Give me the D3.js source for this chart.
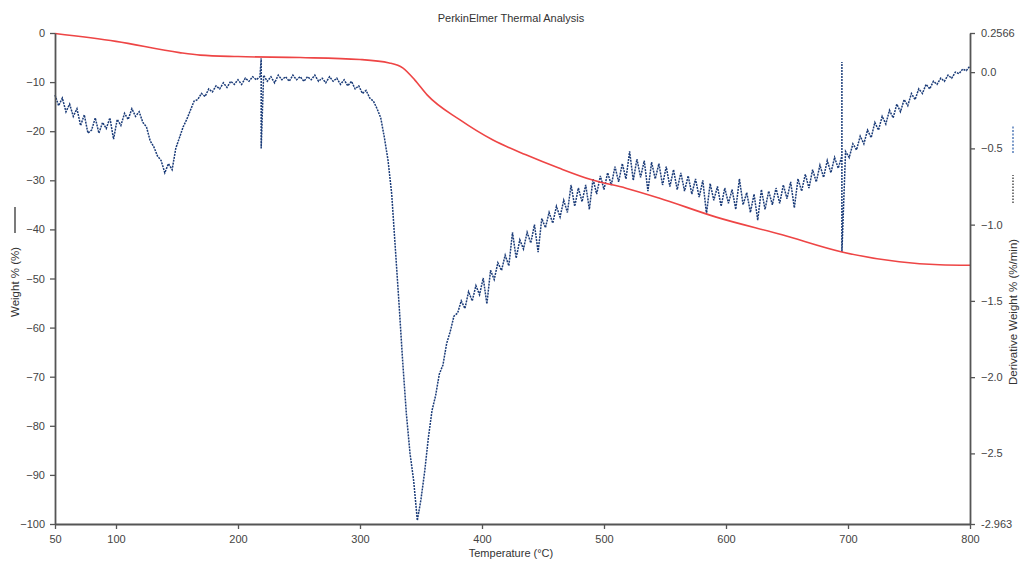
<!DOCTYPE html>
<html>
<head>
<meta charset="utf-8">
<script src="https://cdn.jsdelivr.net/npm/d3@7"></script>
<style>
  html, body { margin: 0; padding: 0; background: #fff; }
  svg { display: block; font-family: "Liberation Sans", Arial, Helvetica, sans-serif; }
  .axis path, .axis line { stroke: #555; }
  .axis text { fill: #444; font-size: 11px; }
</style>
</head>
<body>
<svg id="chart" width="1021" height="561"></svg>
<script>
// ---------- data ----------
const tempTicks = [50, 100, 200, 300, 400, 500, 600, 700, 800];
const weightTicks = [0, -10, -20, -30, -40, -50, -60, -70, -80, -90, -100];
const derivTicks = [0.2566, 0.0, -0.5, -1.0, -1.5, -2.0, -2.5, -2.963];

// Weight % curve (red)
const weightTemps = [50, 100, 152, 169, 200, 251, 300, 324, 335, 345, 355, 382, 409, 436, 463, 490, 518, 545, 592, 646, 695, 742, 775, 800];
const weightValues = [-0.1, -1.7, -4.0, -4.5, -4.8, -5.0, -5.4, -6.1, -7.1, -9.6, -12.6, -17.7, -21.8, -24.8, -27.5, -29.9, -31.6, -33.6, -37.5, -41.1, -44.6, -46.6, -47.2, -47.3];

// Derivative weight % curve (blue), sampled every 3 °C from 50 to 800
const derivStart = 50, derivStep = 3;
const derivValues = [
  -0.15,-0.22,-0.17,-0.26,-0.21,-0.29,-0.24,-0.35,-0.28,-0.40,
  -0.38,-0.30,-0.40,-0.33,-0.37,-0.30,-0.44,-0.31,-0.35,-0.27,
  -0.31,-0.24,-0.29,-0.26,-0.33,-0.36,-0.45,-0.49,-0.55,-0.58,
  -0.66,-0.60,-0.64,-0.50,-0.43,-0.36,-0.31,-0.25,-0.19,-0.18,
  -0.14,-0.16,-0.11,-0.13,-0.09,-0.11,-0.07,-0.10,-0.06,-0.08,
  -0.05,-0.08,-0.04,-0.06,-0.03,-0.05,-0.03,-0.02,-0.06,-0.03,
  -0.07,-0.02,-0.05,-0.03,-0.06,-0.02,-0.05,-0.03,-0.06,-0.03,
  -0.05,-0.02,-0.06,-0.04,-0.07,-0.03,-0.06,-0.04,-0.08,-0.05,
  -0.09,-0.06,-0.11,-0.09,-0.14,-0.12,-0.17,-0.19,-0.24,-0.30,
  -0.43,-0.58,-0.80,-1.16,-1.52,-1.90,-2.24,-2.50,-2.68,-2.94,
  -2.80,-2.62,-2.40,-2.22,-2.12,-1.98,-1.92,-1.78,-1.70,-1.60,
  -1.58,-1.50,-1.55,-1.44,-1.50,-1.40,-1.46,-1.35,-1.52,-1.30,
  -1.36,-1.25,-1.30,-1.20,-1.27,-1.05,-1.22,-1.10,-1.16,-1.05,
  -1.12,-1.00,-1.18,-0.96,-1.02,-0.92,-0.99,-0.88,-0.95,-0.84,
  -0.92,-0.74,-0.88,-0.76,-0.85,-0.74,-0.90,-0.70,-0.80,-0.68,
  -0.77,-0.66,-0.74,-0.62,-0.72,-0.60,-0.70,-0.52,-0.71,-0.57,
  -0.69,-0.58,-0.78,-0.59,-0.70,-0.60,-0.74,-0.62,-0.75,-0.64,
  -0.77,-0.66,-0.78,-0.68,-0.80,-0.70,-0.82,-0.71,-0.93,-0.73,
  -0.84,-0.75,-0.88,-0.76,-0.86,-0.77,-0.90,-0.70,-0.87,-0.79,
  -0.92,-0.80,-0.97,-0.77,-0.90,-0.78,-0.87,-0.76,-0.86,-0.74,
  -0.83,-0.72,-0.89,-0.70,-0.78,-0.67,-0.76,-0.64,-0.72,-0.61,
  -0.69,-0.58,-0.66,-0.56,-0.63,-0.55,-0.52,-0.56,-0.47,-0.51,
  -0.42,-0.47,-0.38,-0.43,-0.33,-0.38,-0.29,-0.34,-0.25,-0.30,
  -0.21,-0.26,-0.18,-0.22,-0.14,-0.18,-0.11,-0.14,-0.08,-0.11,
  -0.06,-0.08,-0.04,-0.06,-0.02,-0.04,0.00,-0.01,0.02,0.01,
  0.04
];
// Sharp single-sample spikes in the derivative trace
const spikeTemps = [219, 695];
const spikeHigh = [0.09, 0.066];
const spikeLow = [-0.50, -1.18];

// ---------- layout ----------
const svg = d3.select("#chart");
const x = d3.scaleLinear().domain([50, 800]).range([55, 970]);
const yW = d3.scaleLinear().domain([-100, 0]).range([524, 33]);
const yD = d3.scaleLinear().domain([-2.963, 0.2566]).range([524, 33]);

// ---------- data prep ----------
const weightData = weightTemps.map((t, i) => ({ t, v: weightValues[i] }));
let derivData = derivValues.map((v, i) => ({ t: derivStart + i * derivStep, v }));
spikeTemps.forEach((t, i) => {
  derivData.push({ t, v: spikeHigh[i] });
  derivData.push({ t, v: spikeLow[i] });
});
derivData.sort((a, b) => a.t - b.t);

// ---------- lines ----------
svg.append("path")
  .datum(derivData)
  .attr("fill", "none")
  .attr("stroke", "#1a3b78")
  .attr("stroke-width", 1.5)
  .attr("stroke-dasharray", "2,1")
  .attr("d", d3.line().x(d => x(d.t)).y(d => yD(d.v)));

svg.append("path")
  .datum(weightData)
  .attr("fill", "none")
  .attr("stroke", "#ee4545")
  .attr("stroke-width", 1.6)
  .attr("d", d3.line().curve(d3.curveMonotoneX).x(d => x(d.t)).y(d => yW(d.v)));

// ---------- axes ----------
const fmtD = d => (d === 0.2566 || d === -2.963) ? String(d) : d3.format(".1f")(d);

const gL = svg.append("g").attr("class", "axis").attr("transform", "translate(55,0)")
  .call(d3.axisLeft(yW).tickValues(weightTicks).tickSize(5).tickSizeOuter(0).tickPadding(5).tickFormat(d3.format("d")));
const gR = svg.append("g").attr("class", "axis").attr("transform", "translate(970,0)")
  .call(d3.axisRight(yD).tickValues(derivTicks).tickSize(5).tickSizeOuter(0).tickPadding(6).tickFormat(fmtD));
const gB = svg.append("g").attr("class", "axis").attr("transform", "translate(0,524)")
  .call(d3.axisBottom(x).tickValues(tempTicks).tickSize(5).tickSizeOuter(0).tickPadding(6).tickFormat(d3.format("d")));
[gL, gR, gB].forEach(g => {
  g.select(".domain").attr("stroke", "#555").attr("stroke-width", 1.8);
  g.selectAll(".tick line").attr("stroke", "#555").attr("stroke-width", 1.3);
});

// ---------- titles ----------
svg.append("text").attr("x", 511).attr("y", 22).attr("text-anchor", "middle")
  .attr("font-size", 11).attr("fill", "#333").text("PerkinElmer Thermal Analysis");

svg.append("text").attr("x", 511).attr("y", 557).attr("text-anchor", "middle")
  .attr("font-size", 11).attr("fill", "#333").text("Temperature (°C)");

// left label with legend line
const gLL = svg.append("g").attr("transform", "translate(19,317) rotate(-90)");
gLL.append("text").attr("x", 0).attr("y", 0).attr("font-size", 11.5).attr("fill", "#333").text("Weight % (%)");
gLL.append("line").attr("x1", 84).attr("x2", 110).attr("y1", -4).attr("y2", -4)
  .attr("stroke", "#222").attr("stroke-width", 1.2);

// right label with legend lines
const gRL = svg.append("g").attr("transform", "translate(1017,385) rotate(-90)");
gRL.append("text").attr("x", 0).attr("y", 0).attr("font-size", 11.5).attr("fill", "#333").text("Derivative Weight % (%/min)");
gRL.append("line").attr("x1", 182).attr("x2", 210).attr("y1", -4).attr("y2", -4)
  .attr("stroke", "#222").attr("stroke-width", 1.2).attr("stroke-dasharray", "1.5,1.5");
gRL.append("line").attr("x1", 232).attr("x2", 260).attr("y1", -4).attr("y2", -4)
  .attr("stroke", "#2a5ca8").attr("stroke-width", 1.2).attr("stroke-dasharray", "2,1.5");
</script>
</body>
</html>
